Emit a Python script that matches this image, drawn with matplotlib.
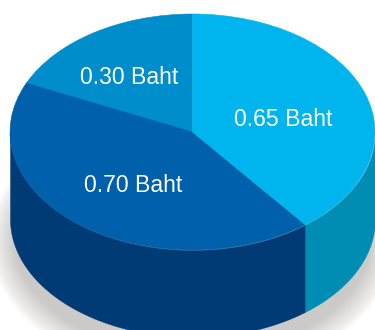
import numpy as np
import matplotlib
matplotlib.use("Agg")
import matplotlib.pyplot as plt
from matplotlib.patches import Ellipse

values = [0.30, 0.70, 0.65]
labels = ["0.30 Baht", "0.70 Baht", "0.65 Baht"]
top_colors = ["#008DCB", "#0060AC", "#00B5EE"]
side_colors = ["#0079AE", "#003B75", "#008DB4"]

W, H = 375, 330
CX, CY, RX, RY, DEPTH = 192.5, 132, 182.5, 118, 87
k = RY / RX

fig = plt.figure(figsize=(W / 100, H / 100), dpi=100, facecolor="white")
ax = fig.add_axes([0, 0, 1, 1])

# soft ground shadow
for i in range(24):
    grow = 26 * (1 - i / 24)
    ax.add_patch(Ellipse((0, (-DEPTH - 22) / k), 2 * (RX + grow - 6), 2 * (RY + grow - 6) / k,
                         fc="#8f8a85", ec="none", alpha=0.02, zorder=1))

# side wall
ang = 90.0
total = sum(values)
for v, c in zip(values, side_colors):
    a1 = ang + 360 * v / total
    lo, hi = max(ang, 180), min(a1, 360)
    if lo < hi:
        t = np.radians(np.linspace(lo, hi, 200))
        x = RX * np.cos(t)
        y = RX * np.sin(t)
        ax.fill_between(x, y, y - DEPTH / k, color=c, lw=0.3, zorder=2)
    ang = a1

# top face
wedges, _ = ax.pie(values, colors=top_colors, startangle=90, counterclock=True, radius=RX,
                   center=(0, 0), wedgeprops=dict(linewidth=0, zorder=3), frame=True)
for w in wedges:
    w.set_edgecolor(w.get_facecolor())
    w.set_linewidth(0.4)
ax.set_aspect("auto")
ax.set_xlim(-CX, W - CX)
ax.set_ylim(-(H - CY) / k, CY / k)
ax.axis("off")

label_px = [(129, 77.5), (133, 185.5), (283.5, 119.5)]
for s, (px, py) in zip(labels, label_px):
    ax.text((px - CX), (CY - py) / k, s, color="white", fontsize=16.6,
            family="Liberation Sans", ha="center", va="center", zorder=5)

fig.savefig("out.png", dpi=100)
